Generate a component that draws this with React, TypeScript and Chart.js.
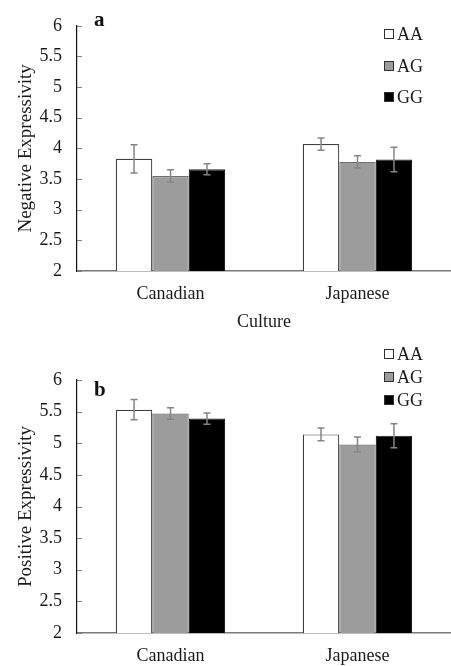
import React, { useEffect, useRef } from "react";
import { Chart, registerables } from "chart.js";

Chart.register(...registerables);

const categories = ["Canadian", "Japanese"];
const genotypes = ["AA", "AG", "GG"];
const genoColors = ["#ffffff", "#9c9c9c", "#000000"];
const genoBorders = ["#404040", "#707070", "#202020"];

// Panel a: Negative Expressivity
const negAA = [3.83, 4.07];
const negAG = [3.55, 3.78];
const negGG = [3.66, 3.82];
const negAAErr = [0.23, 0.1];
const negAGErr = [0.1, 0.1];
const negGGErr = [0.09, 0.2];

// Panel b: Positive Expressivity
const posAA = [5.53, 5.14];
const posAG = [5.47, 4.98];
const posGG = [5.39, 5.12];
const posAAErr = [0.16, 0.1];
const posAGErr = [0.09, 0.12];
const posGGErr = [0.09, 0.19];

const yMin = 2;
const yMax = 6;
const yStep = 0.5;

const FONT = "'Liberation Serif', 'Times New Roman', serif";

const errorBarPlugin = {
  id: "errorBars",
  afterDatasetsDraw(chart: any) {
    const ctx = chart.ctx;
    const y = chart.scales.y;
    ctx.save();
    ctx.strokeStyle = "#858585";
    ctx.lineWidth = 1.5;
    chart.data.datasets.forEach((ds: any, di: number) => {
      const meta = chart.getDatasetMeta(di);
      meta.data.forEach((bar: any, i: number) => {
        const v = ds.data[i];
        const e = ds.errors[i];
        const x = bar.x;
        const yt = y.getPixelForValue(v + e);
        const yb = y.getPixelForValue(v - e);
        const cap = 3.5;
        ctx.beginPath();
        ctx.moveTo(x, yt);
        ctx.lineTo(x, yb);
        ctx.moveTo(x - cap, yt);
        ctx.lineTo(x + cap, yt);
        ctx.moveTo(x - cap, yb);
        ctx.lineTo(x + cap, yb);
        ctx.stroke();
      });
    });
    ctx.restore();
  },
};

const innerTicksPlugin = {
  id: "innerTicks",
  afterDraw(chart: any) {
    const ctx = chart.ctx;
    const y = chart.scales.y;
    const left = chart.chartArea.left;
    ctx.save();
    ctx.strokeStyle = "#808080";
    ctx.lineWidth = 1;
    y.ticks.forEach((_t: any, i: number) => {
      const py = Math.round(y.getPixelForTick(i)) + 0.5;
      ctx.beginPath();
      ctx.moveTo(left, py);
      ctx.lineTo(left + 5, py);
      ctx.stroke();
    });
    ctx.restore();
  },
};

const legendPlugin = {
  id: "customLegend",
  afterDraw(chart: any, _args: any, opts: any) {
    const ctx = chart.ctx;
    ctx.save();
    ctx.font = `18px ${FONT}`;
    ctx.textBaseline = "middle";
    ctx.textAlign = "left";
    chart.data.datasets.forEach((ds: any, i: number) => {
      const cy = opts.ys[i];
      const s = opts.box;
      ctx.fillStyle = ds.backgroundColor;
      ctx.fillRect(opts.x, cy - s / 2, s, s);
      ctx.strokeStyle = "#303030";
      ctx.lineWidth = 1;
      ctx.strokeRect(opts.x + 0.5, cy - s / 2 + 0.5, s - 1, s - 1);
      ctx.fillStyle = "#1a1a1a";
      ctx.fillText(ds.label, opts.x + s + 3, cy + 1);
    });
    ctx.restore();
  },
};

const panelLabelPlugin = {
  id: "panelLabel",
  afterDraw(chart: any, _args: any, opts: any) {
    const ctx = chart.ctx;
    ctx.save();
    ctx.font = `bold 21px ${FONT}`;
    ctx.fillStyle = "#111";
    ctx.textBaseline = "middle";
    ctx.textAlign = "left";
    ctx.fillText(opts.text, opts.x, opts.y);
    ctx.restore();
  },
};

function makeConfig(
  values: number[][],
  errors: number[][],
  yTitle: string,
  xTitle: string | null,
  panel: string,
  padTop: number,
  xHeight: number,
  legendYs: number[],
  labelY: number
): any {
  return {
    type: "bar",
    data: {
      labels: categories,
      datasets: genotypes.map((g, i) => ({
        label: g,
        data: values[i],
        errors: errors[i],
        backgroundColor: genoColors[i],
        borderColor: genoBorders[i],
        borderWidth: 1.2,
        categoryPercentage: 0.585,
        barPercentage: 1.0,
      })),
    },
    plugins: [errorBarPlugin, innerTicksPlugin, legendPlugin, panelLabelPlugin],
    options: {
      animation: false,
      responsive: false,
      maintainAspectRatio: false,
      events: [],
      layout: { padding: { top: padTop, right: 0, bottom: 0, left: 0 } },
      plugins: {
        legend: { display: false },
        tooltip: { enabled: false },
        customLegend: { x: 384, ys: legendYs, box: 10 },
        panelLabel: { text: panel, x: 94, y: labelY },
      },
      scales: {
        x: {
          grid: { display: false, drawTicks: false },
          border: { display: true, color: "#7a7a7a", width: 1.5 },
          ticks: {
            color: "#1a1a1a",
            font: { family: FONT, size: 18 },
            padding: 12,
          },
          title: xTitle
            ? {
                display: true,
                text: xTitle,
                color: "#1a1a1a",
                font: { family: FONT, size: 18 },
                padding: { top: 0, bottom: 7 },
              }
            : { display: false },
          afterFit(scale: any) {
            scale.height = xHeight;
          },
        },
        y: {
          min: yMin,
          max: yMax,
          grid: { display: false, drawTicks: false },
          border: { display: true, color: "#111111", width: 1.2 },
          ticks: {
            stepSize: yStep,
            color: "#1a1a1a",
            font: { family: FONT, size: 18 },
            padding: 15,
            callback: (v: any) => String(Number(v)),
          },
          title: {
            display: true,
            text: yTitle,
            color: "#1a1a1a",
            font: { family: FONT, size: 19 },
            padding: { top: 15, bottom: 0 },
          },
          afterFit(scale: any) {
            scale.width = 77;
          },
        },
      },
    },
  };
}

export default function App() {
  const refA = useRef<HTMLCanvasElement>(null);
  const refB = useRef<HTMLCanvasElement>(null);

  useEffect(() => {
    const a = new Chart(
      refA.current as HTMLCanvasElement,
      makeConfig(
        [negAA, negAG, negGG],
        [negAAErr, negAGErr, negGGErr],
        "Negative Expressivity",
        "Culture",
        "a",
        17,
        69,
        [34, 66, 97],
        21
      )
    );
    const b = new Chart(
      refB.current as HTMLCanvasElement,
      makeConfig(
        [posAA, posAG, posGG],
        [posAAErr, posAGErr, posGGErr],
        "Positive Expressivity",
        null,
        "b",
        40,
        33,
        [14, 37, 60],
        51
      )
    );
    return () => {
      a.destroy();
      b.destroy();
    };
  }, []);

  return (
    <div
      style={{
        position: "absolute",
        left: 0,
        top: 0,
        width: 451,
        height: 666,
        background: "#fff",
        overflow: "hidden",
      }}
    >
      <canvas ref={refA} width={451} height={340} style={{ display: "block" }} />
      <canvas ref={refB} width={451} height={326} style={{ display: "block" }} />
    </div>
  );
}
